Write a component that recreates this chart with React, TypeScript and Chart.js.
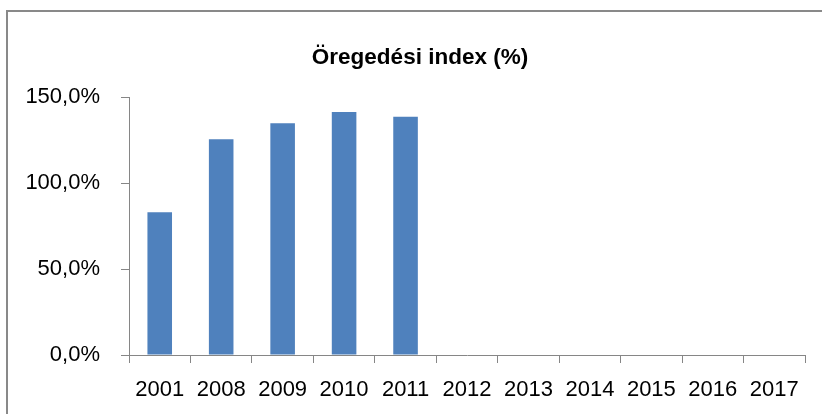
import React, { useEffect, useRef } from "react";
import { Chart, registerables } from "chart.js";

Chart.register(...registerables);

const categories = ["2001", "2008", "2009", "2010", "2011", "2012", "2013", "2014", "2015", "2016", "2017"];
const agingIndex: (number | null)[] = [83.0, 125.4, 134.7, 141.3, 138.5, null, null, null, null, null, null];
const yTicks = [0, 50, 100, 150];
const titleText = "Öregedési index (%)";

const FONT = "'Liberation Sans', Arial, sans-serif";
const AXIS_COLOR = "#868686";

const frame = {
  id: "frame",
  afterDraw(chart: any) {
    const ctx = chart.ctx;
    ctx.save();
    ctx.strokeStyle = "#898989";
    ctx.lineWidth = 2;
    ctx.strokeRect(7, 11, chart.width + 20, chart.height + 20);
    ctx.fillStyle = "#000";
    ctx.font = `bold 22.5px ${FONT}`;
    ctx.textAlign = "center";
    ctx.textBaseline = "alphabetic";
    ctx.fillText(titleText, 420, 64);
    ctx.restore();
  },
};

export default function App() {
  const ref = useRef<HTMLCanvasElement | null>(null);
  useEffect(() => {
    document.body.style.margin = "0";
    const chart = new Chart(ref.current!, {
      type: "bar",
      data: {
        labels: categories,
        datasets: [
          {
            data: agingIndex,
            backgroundColor: "#4F81BD",
            categoryPercentage: 1,
            barPercentage: 0.4,
          },
        ],
      },
      options: {
        animation: false,
        responsive: false,
        layout: { padding: { left: 0, right: 17, top: 97, bottom: 0 } },
        plugins: {
          legend: { display: false },
          tooltip: { enabled: false },
          title: { display: false },
        },
        scales: {
          x: {
            offset: true,
            grid: { offset: true, drawOnChartArea: false, drawTicks: true, tickLength: 8, color: AXIS_COLOR },
            border: { display: true, color: AXIS_COLOR, width: 1 },
            ticks: { color: "#000", font: { family: FONT, size: 22 }, padding: 14, maxRotation: 0, autoSkip: false },
            afterFit(scale: any) {
              scale.height = 59;
            },
          },
          y: {
            min: 0,
            max: 150,
            afterBuildTicks(scale: any) {
              scale.ticks = yTicks.map((v) => ({ value: v }));
            },
            grid: { drawOnChartArea: false, drawTicks: true, tickLength: 8, color: AXIS_COLOR },
            border: { display: true, color: AXIS_COLOR, width: 1 },
            ticks: {
              color: "#000",
              font: { family: FONT, size: 22 },
              padding: 21,
              callback: (v: any) => Number(v).toFixed(1).replace(".", ",") + "%",
            },
            afterFit(scale: any) {
              scale.width = 129;
            },
          },
        },
      },
      plugins: [frame],
    });
    return () => chart.destroy();
  }, []);
  return (
    <div style={{ position: "fixed", left: 0, top: 0, width: 822, height: 414, background: "#fff" }}>
      <canvas ref={ref} width={822} height={414} style={{ width: 822, height: 414 }} />
    </div>
  );
}
